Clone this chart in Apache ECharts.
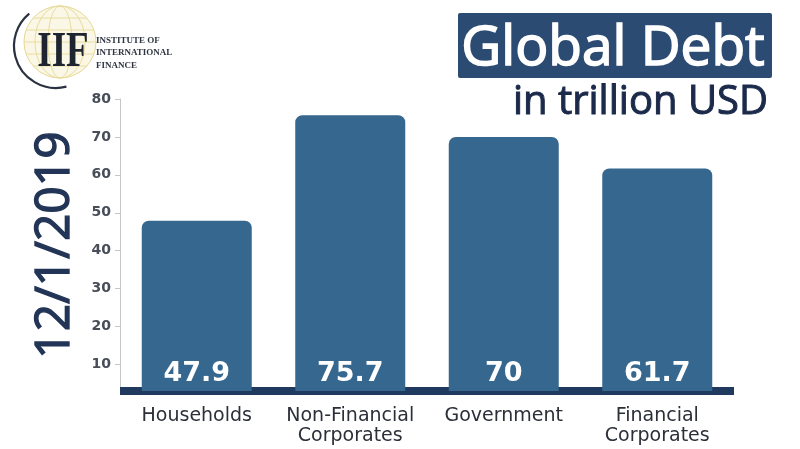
<!DOCTYPE html>
<html>
<head>
<meta charset="utf-8">
<script src="https://cdn.jsdelivr.net/npm/echarts@6/dist/echarts.min.js"></script>
<style>
html,body{margin:0;padding:0;background:#fff;}
#chart{width:800px;height:449px;}
</style>
</head>
<body>
<div id="chart"></div>
<script>
var categories = ['Households', 'Non-Financial\nCorporates', 'Government', 'Financial\nCorporates'];
var debtValues = [47.9, 75.7, 70, 61.7];
var yTicks = [10, 20, 30, 40, 50, 60, 70, 80];
var titleText = 'Global Debt';
var subtitleText = 'in trillion USD';
var dateText = '12/1/2019';

var chart = echarts.init(document.getElementById('chart'));

var globeLines = [];
globeLines.push({type:'circle', shape:{cx:60, cy:42, r:36}, style:{fill:'rgba(240,232,185,0.35)', stroke:'#e6d892', lineWidth:1}, z:1});
[-24,-12,0,12,24].forEach(function(d){
  var hw = Math.sqrt(36*36 - d*d);
  globeLines.push({type:'line', shape:{x1:60-hw, y1:42+d, x2:60+hw, y2:42+d}, style:{stroke:'#e8dc9c', lineWidth:1}, z:1});
});
[12,25].forEach(function(rx){
  globeLines.push({type:'ellipse', shape:{cx:60, cy:42, rx:rx, ry:36}, style:{fill:'none', stroke:'#e8dc9c', lineWidth:1}, z:1});
});

chart.setOption({
  animation: false,
  backgroundColor: '#ffffff',
  grid: {left: 120, right: 66, top: 99, bottom: 58, containLabel: false},
  xAxis: {
    type: 'category',
    data: categories,
    axisLine: {show: true, onZero: false, lineStyle: {color: '#1f3a5e', width: 8, cap: 'butt'}},
    axisTick: {show: false},
    axisLabel: {
      margin: 15,
      color: '#2b2f38',
      fontFamily: 'DejaVu Sans',
      fontSize: 19,
      lineHeight: 20,
      interval: 0
    }
  },
  yAxis: {
    type: 'value',
    min: 3,
    max: 80,
    splitLine: {show: false},
    axisLine: {show: true, lineStyle: {color: '#c4c6ca', width: 1}},
    axisTick: {show: true, length: 5, customValues: yTicks, lineStyle: {color: '#c4c6ca'}},
    axisLabel: {
      customValues: yTicks,
      margin: 9,
      color: '#474d59',
      fontFamily: 'DejaVu Sans',
      fontWeight: 'bold',
      fontSize: 14
    }
  },
  series: [{
    type: 'bar',
    data: debtValues,
    barWidth: 110,
    itemStyle: {color: '#35678f', borderRadius: [7, 7, 0, 0]},
    label: {
      show: true,
      position: 'insideBottom',
      distance: 4,
      color: '#ffffff',
      fontFamily: 'DejaVu Sans',
      fontWeight: 'bold',
      fontSize: 27
    }
  }],
  graphic: [
    {type:'rect', shape:{x:458, y:13, width:314, height:65, r:2}, style:{fill:'#2c4b73'}, z:10},
    {type:'text', x:613, y:49, style:{text:titleText, fill:'#ffffff', stroke:'#ffffff', lineWidth:1.6, font:'55px "Open Sans"', align:'center', verticalAlign:'middle'}, z:11},
    {type:'text', x:768, y:103, style:{text:subtitleText, fill:'#1b2a4a', stroke:'#1b2a4a', lineWidth:1, font:'40px "Open Sans"', align:'right', verticalAlign:'middle'}, z:11},
    {type:'text', x:55, y:245, rotation: Math.PI/2, style:{text:dateText, fill:'#233556', stroke:'#233556', lineWidth:1.4, font:'48px "Open Sans"', align:'center', verticalAlign:'middle'}, z:11},
    {type:'group', children: globeLines.concat([
      {type:'arc', shape:{cx:56, cy:46, r:42, startAngle: Math.PI*0.42, endAngle: Math.PI*1.28, clockwise:true}, style:{stroke:'#2a3140', lineWidth:2.2, fill:'none'}, z:2},
      {type:'text', x:63, y:53, scaleX:0.74, style:{text:'IIF', fill:'#1e2430', font:'bold 50px "Liberation Serif"', align:'center', verticalAlign:'middle'}, z:3},
      {type:'text', x:96, y:41, style:{text:'INSTITUTE OF', fill:'#2f3440', font:'bold 9px "Liberation Serif"', align:'left', verticalAlign:'middle'}, z:3},
      {type:'text', x:96, y:53, style:{text:'INTERNATIONAL', fill:'#2f3440', font:'bold 9px "Liberation Serif"', align:'left', verticalAlign:'middle'}, z:3},
      {type:'text', x:96, y:66, style:{text:'FINANCE', fill:'#2f3440', font:'bold 9px "Liberation Serif"', align:'left', verticalAlign:'middle'}, z:3}
    ])}
  ]
});
</script>
</body>
</html>
